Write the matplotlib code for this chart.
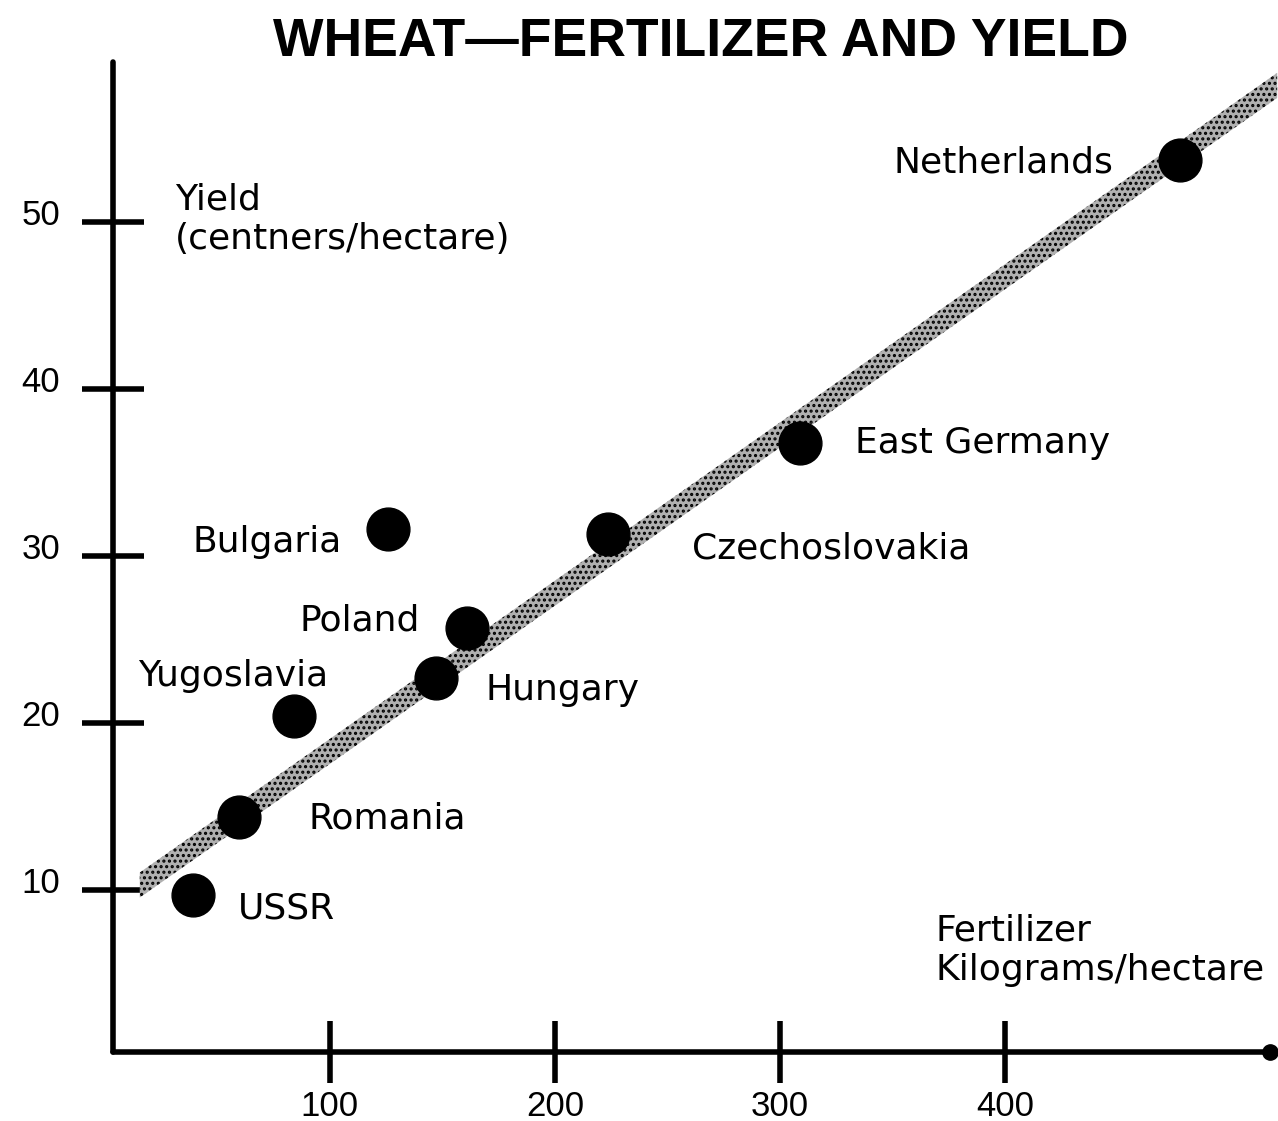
import numpy as np
import matplotlib
matplotlib.use("Agg")
import matplotlib.pyplot as plt
import matplotlib.transforms as mtransforms

# data
countries = ["USSR", "Romania", "Yugoslavia", "Hungary", "Poland",
             "Bulgaria", "Czechoslovakia", "East Germany", "Netherlands"]
fertilizer = [39, 59.5, 84, 147, 161, 126, 223.5, 309, 478]
yield_ = [9.7, 14.4, 20.4, 22.7, 25.7, 31.6, 31.3, 36.8, 53.7]

# trend line end points
trend_x = [15.5, 521]
trend_y = [10.3, 58.2]

x_ticks = [100, 200, 300, 400]
y_ticks = [10, 20, 30, 40, 50]

# label placement (offset pixels from dot, alignment)
label_offsets = {
    "USSR": (45, -13, "left"),
    "Romania": (70, -2, "left"),
    "Yugoslavia": (34, 40, "right"),
    "Hungary": (50, -12, "left"),
    "Poland": (-47, 7, "right"),
    "Bulgaria": (-47, -13, "right"),
    "Czechoslovakia": (84, -14, "left"),
    "East Germany": (55, 0, "left"),
    "Netherlands": (-67, -2, "right"),
}

plt.rcParams['font.family'] = ['Liberation Sans', 'DejaVu Sans']
plt.rcParams['hatch.linewidth'] = 1.5
plt.rcParams['hatch.color'] = 'black'
label_font = 'DejaVu Sans'

fig = plt.figure(figsize=(12.78, 11.21), dpi=100)
ax = fig.add_axes([113/1278, 69/1121, 1157/1278, 990/1121])
ax.set_xlim(3.6, 517.8)
ax.set_ylim(0.3, 59.6)

# trend band (halftone look)
tx = np.array(trend_x)
ty = np.array(trend_y)
ax.fill_between(tx, ty - 0.75, ty + 0.75, facecolor='#b0b0b0',
                edgecolor='black', linewidth=0, hatch='...',
                clip_on=False, zorder=2)

ax.scatter(fertilizer, yield_, s=950, color='black', zorder=3,
           clip_on=False)

for name, xv, yv in zip(countries, fertilizer, yield_):
    dx, dy, ha = label_offsets[name]
    ax.annotate(name, (xv, yv), xytext=(dx, dy), textcoords='offset pixels',
                ha=ha, va='center', fontsize=26, family=label_font,
                zorder=4)

# axes styling
for s in ['top', 'right']:
    ax.spines[s].set_visible(False)
for s in ['left', 'bottom']:
    ax.spines[s].set_linewidth(4)
    ax.spines[s].set_capstyle('round')

ax.set_xticks(x_ticks)
ax.set_yticks(y_ticks)
ax.set_xticklabels([str(v) for v in x_ticks])
ax.set_yticklabels([str(v) for v in y_ticks])
ax.tick_params(axis='both', direction='inout', length=44, width=4,
               labelsize=25)
ax.tick_params(axis='x', pad=5)
ax.tick_params(axis='y', pad=16)
shift_up = mtransforms.ScaledTranslation(0, 10/100, fig.dpi_scale_trans)
for lab in ax.get_yticklabels():
    lab.set_transform(lab.get_transform() + shift_up)

# blob at end of x axis
ax.plot([517.8], [0.3], marker='o', markersize=11, color='black',
        clip_on=False, zorder=5)

ax.text(0.0536, 0.841, "Yield\n(centners/hectare)", transform=ax.transAxes,
        fontsize=26, family=label_font, va='center', ha='left',
        linespacing=1.2)
ax.text(0.7105, 0.103, "Fertilizer\nKilograms/hectare", transform=ax.transAxes,
        fontsize=26, family=label_font, va='center', ha='left',
        linespacing=1.2)

fig.text(701/1278, 1 - 42/1121, "WHEAT\u2014FERTILIZER AND YIELD",
         ha='center', va='center', fontsize=38.5, fontweight='bold')

fig.savefig("out.png", dpi=100, facecolor='white')
